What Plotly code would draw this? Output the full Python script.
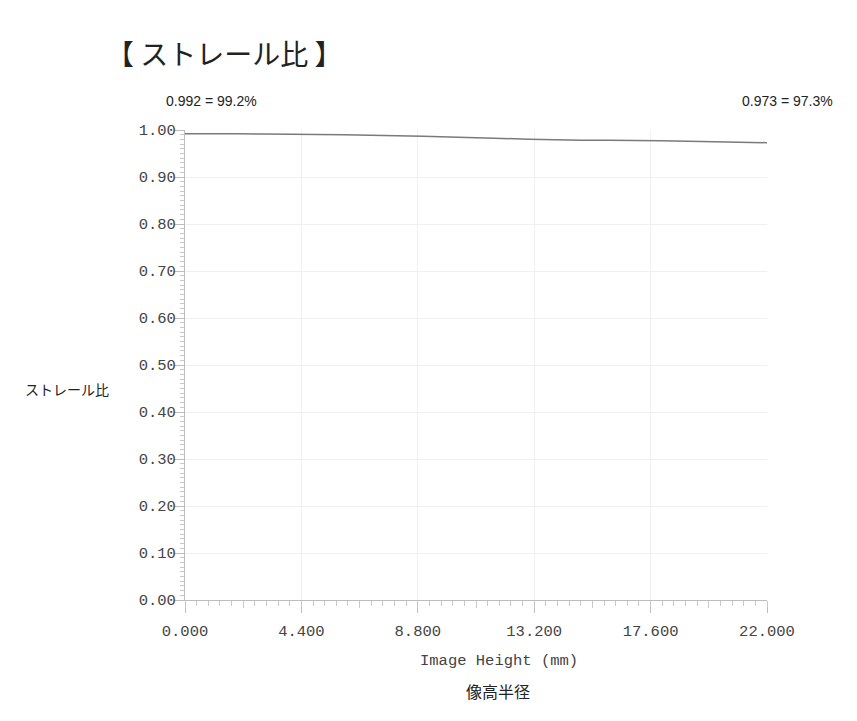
import plotly.graph_objects as go

# Data
image_height = [0.0, 2.0, 4.0, 6.0, 8.0, 10.0, 12.0, 14.0, 16.0, 18.0, 20.0, 22.0]
strehl_ratio = [0.992, 0.992, 0.991, 0.990, 0.988, 0.985, 0.982, 0.979, 0.978, 0.977, 0.975, 0.973]

x_tickvals = [0.0, 4.4, 8.8, 13.2, 17.6, 22.0]
y_tickvals = [0.0, 0.1, 0.2, 0.3, 0.4, 0.5, 0.6, 0.7, 0.8, 0.9, 1.0]

title_text = "【 ストレール比 】"
left_label = f"{strehl_ratio[0]:.3f} = {strehl_ratio[0]*100:.1f}%"
right_label = f"{strehl_ratio[-1]:.3f} = {strehl_ratio[-1]*100:.1f}%"

mono = "Liberation Mono, Courier New, monospace"
jp = "Noto Sans CJK JP, sans-serif"
sans = "Liberation Sans, Arial, sans-serif"

fig = go.Figure()
fig.add_trace(go.Scatter(x=image_height, y=strehl_ratio, mode="lines",
                         line=dict(color="#7a7a7a", width=1.5, shape="spline", smoothing=0.6),
                         showlegend=False, hoverinfo="x+y"))
# invisible trace for the secondary (half-step) tick axis
fig.add_trace(go.Scatter(x=[0, 22], y=[0, 0], xaxis="x2", mode="lines",
                         line=dict(width=0), showlegend=False, hoverinfo="skip"))

OFF = 8  # page body margin
W, H = 857 - OFF, 721 - OFF
# target page-pixel layout
PL, PR, PT, PB = 185, 767, 130, 600
L, T = PL - OFF, PT - OFF
R = W - (PR - OFF)
B = H - (PB - OFF)
pw, ph = PR - PL, PB - PT

def px(xp):
    return (xp - PL) / pw

def py(yp):
    return (PB - yp) / ph

fig.update_layout(
    width=W, height=H,
    margin=dict(l=L, r=R, t=T, b=B),
    paper_bgcolor="white", plot_bgcolor="white",
    title=dict(text=title_text, x=(106 - OFF) / W, xanchor="left", xref="container",
               y=1 - (55 - OFF) / H, yanchor="middle", yref="container",
               font=dict(family=jp, size=28, color="#222")),
    xaxis=dict(range=[0, 22], tickvals=x_tickvals, tickformat=".3f",
               showgrid=True, gridcolor="#f0f0f0", gridwidth=1,
               showline=True, linecolor="#bdbdbd", linewidth=1,
               ticks="outside", ticklen=12, tickcolor="#bdbdbd",
               ticklabelstandoff=4,
               tickfont=dict(family=mono, size=15.5, color="#444"),
               minor=dict(dtick=0.44, tick0=0, ticks="outside", ticklen=5,
                          tickcolor="#c8c8c8", showgrid=False),
               zeroline=False, fixedrange=True),
    xaxis2=dict(range=[0, 22], overlaying="x", side="bottom", dtick=2.2, tick0=0,
                ticks="outside", ticklen=7, tickcolor="#c8c8c8",
                showticklabels=False, showgrid=False, showline=False,
                zeroline=False, anchor="y", fixedrange=True),
    yaxis=dict(range=[0, 1], tickvals=y_tickvals, tickformat=".2f",
               showgrid=True, gridcolor="#f0f0f0", gridwidth=1,
               showline=True, linecolor="#bdbdbd", linewidth=1,
               ticks="outside", ticklen=10, tickcolor="#bdbdbd",
               ticklabelstandoff=-5,
               tickfont=dict(family=mono, size=15.5, color="#444"),
               minor=dict(dtick=0.01, tick0=0, ticks="outside", ticklen=4,
                          tickcolor="#c8c8c8", showgrid=False),
               zeroline=False, fixedrange=True),
    annotations=[
        dict(text=left_label, x=px(164), y=py(101), xref="paper", yref="paper",
             xanchor="left", yanchor="middle", showarrow=False,
             font=dict(family=sans, size=14, color="#222")),
        dict(text=right_label, x=px(835), y=py(101), xref="paper", yref="paper",
             xanchor="right", yanchor="middle", showarrow=False,
             font=dict(family=sans, size=14, color="#222")),
        dict(text="ストレール比", x=px(67), y=py(389), xref="paper", yref="paper",
             xanchor="center", yanchor="middle", showarrow=False,
             font=dict(family=jp, size=14, color="#222")),
        dict(text="Image Height (mm)", x=px(499), y=py(661), xref="paper", yref="paper",
             xanchor="center", yanchor="middle", showarrow=False,
             font=dict(family=mono, size=15.5, color="#444")),
        dict(text="像高半径", x=px(498), y=py(691), xref="paper", yref="paper",
             xanchor="center", yanchor="middle", showarrow=False,
             font=dict(family=jp, size=16, color="#222")),
    ],
)

fig.write_html("out.html")
